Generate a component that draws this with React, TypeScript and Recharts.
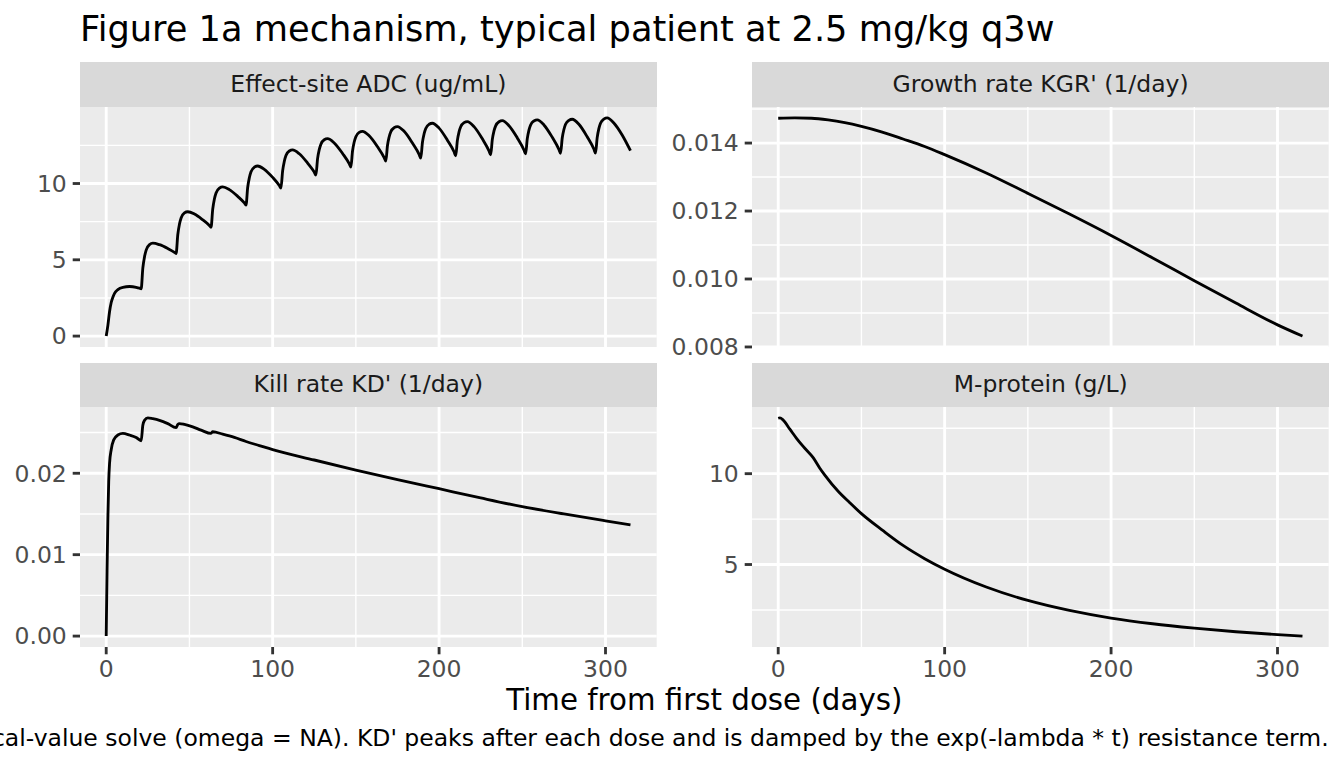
import React from "react";
import { LineChart, Line, XAxis, YAxis, CartesianGrid } from "recharts";

const FONT = "'DejaVu Sans', sans-serif";

// Effect-site ADC (ug/mL), one row per dosing cycle (q3w)
const adcDays = [
  0, 1, 2, 3, 4, 5, 7, 10, 14, 18, 20,
  21, 22, 23, 24, 26, 28, 32, 37, 41,
  42, 43, 44, 45, 47, 49, 53, 58, 62,
  63, 64, 65, 66, 68, 70, 74, 79, 83,
  84, 85, 86, 87, 89, 91, 95, 100, 104,
  105, 106, 107, 108, 110, 112, 116, 121, 125,
  126, 127, 128, 129, 131, 133, 137, 142, 146,
  147, 148, 149, 150, 152, 154, 158, 163, 167,
  168, 169, 170, 171, 173, 175, 179, 184, 188,
  189, 190, 191, 192, 194, 196, 200, 205, 209,
  210, 211, 212, 213, 215, 217, 221, 226, 230,
  231, 232, 233, 234, 236, 238, 242, 247, 251,
  252, 253, 254, 255, 257, 259, 263, 268, 272,
  273, 274, 275, 276, 278, 280, 284, 289, 293,
  294, 295, 296, 297, 299, 301, 305, 310, 315,
];
const adcValues = [
  0, 0.7, 1.6, 2.2, 2.55, 2.8, 3.05, 3.2, 3.25, 3.2, 3.14,
  3.1, 4.45, 5.19, 5.64, 6.0, 6.09, 5.99, 5.74, 5.49,
  5.41, 6.64, 7.33, 7.74, 8.07, 8.15, 8.0, 7.62, 7.25,
  7.13, 8.32, 8.99, 9.38, 9.7, 9.78, 9.6, 9.16, 8.73,
  8.59, 9.74, 10.38, 10.77, 11.07, 11.15, 10.93, 10.4, 9.87,
  9.7, 10.83, 11.45, 11.83, 12.13, 12.2, 11.95, 11.34, 10.75,
  10.55, 11.63, 12.22, 12.58, 12.87, 12.94, 12.66, 11.97, 11.3,
  11.08, 12.13, 12.72, 13.07, 13.35, 13.42, 13.13, 12.41, 11.7,
  11.47, 12.49, 13.05, 13.39, 13.66, 13.73, 13.42, 12.65, 11.91,
  11.66, 12.69, 13.26, 13.61, 13.88, 13.95, 13.63, 12.84, 12.08,
  11.82, 12.83, 13.39, 13.72, 13.99, 14.06, 13.73, 12.93, 12.14,
  11.88, 12.89, 13.45, 13.78, 14.05, 14.12, 13.79, 12.99, 12.2,
  11.94, 12.94, 13.5, 13.84, 14.1, 14.17, 13.84, 13.03, 12.24,
  11.98, 12.98, 13.54, 13.88, 14.14, 14.21, 13.88, 13.06, 12.26,
  11.99, 13.01, 13.6, 13.95, 14.22, 14.3, 13.97, 13.18, 12.15,
];

// Growth rate KGR' (1/day)
const kgrDays = [0, 10, 20, 30, 40, 50, 62, 75, 88, 100, 125, 150, 175, 200, 225, 250, 275, 300, 315];
const kgrValues = [
  0.01473, 0.01474, 0.01473, 0.01468, 0.0146, 0.01449, 0.01433, 0.01412, 0.0139, 0.01366,
  0.01312, 0.01252, 0.01191, 0.01128, 0.01062, 0.00995, 0.00929, 0.00865, 0.00832,
];

// Kill rate KD' (1/day)
const kdDays = [
  0, 0.5, 1, 1.5, 2, 3, 4.5, 7, 10, 14, 18, 21, 22, 23, 25, 28, 32, 37, 42, 43,
  44, 47, 52, 57, 63, 64, 70, 77, 84, 92, 100, 125, 150, 175, 200, 225, 250, 275, 300, 315,
];
const kdValues = [
  0, 0.008, 0.0145, 0.019, 0.0212, 0.0229, 0.0241, 0.0247, 0.0249, 0.0247, 0.0244, 0.024,
  0.0259, 0.0265, 0.0268, 0.0267, 0.0265, 0.0261, 0.0256, 0.026, 0.0261, 0.026, 0.0257,
  0.0253, 0.0249, 0.0251, 0.0248, 0.0244, 0.0239, 0.0234, 0.0229, 0.02163, 0.0204,
  0.01923, 0.0181, 0.01697, 0.0159, 0.015, 0.01416, 0.01367,
];

// M-protein (g/L)
const mDays = [0, 1, 3, 7, 11, 15, 21, 25, 28, 36, 43, 50, 63, 75, 88, 100, 125, 150, 175, 200, 225, 250, 275, 300, 315];
const mValues = [
  13.05, 13.07, 12.95, 12.45, 11.95, 11.5, 10.88, 10.3, 9.92, 9.03, 8.4, 7.8, 6.86,
  6.05, 5.32, 4.74, 3.76, 3.02, 2.47, 2.05, 1.74, 1.5, 1.3, 1.14, 1.06,
];

const dayTicks = [0, 100, 200, 300];
const dayMinor = [50, 150, 250];
const adcTicks = [0, 5, 10];
const adcMinor = [2.5, 7.5, 12.5];
const kgrTicks = [0.008, 0.01, 0.012, 0.014];
const kgrMinor = [0.009, 0.011, 0.013, 0.015];
const kdTicks = [0, 0.01, 0.02];
const kdMinor = [0.005, 0.015, 0.025];
const mTicks = [5, 10];
const mMinor = [2.5, 7.5, 12.5];

// ggplot default: 5% expansion on each side
function expand(v: number[]): [number, number] {
  const lo = Math.min(...v);
  const hi = Math.max(...v);
  const pad = (hi - lo) * 0.05;
  return [lo - pad, hi + pad];
}

const dayDomain = expand([...adcDays, ...kgrDays, ...kdDays, ...mDays]);

const PLOT_W = 576.7;
const PLOT_H = 240;
const STRIP_H = 44.4;
const AXIS_W = 100;
const XAXIS_H = 40;
const PAD_B = 16; // room for the lowest y label on the top row
const tickLine = { stroke: "#333333", strokeWidth: 2.84 };
const tickText = { fill: "#4D4D4D", fontSize: 23.5, fontFamily: FONT };

type PanelProps = {
  label: string;
  days: number[];
  values: number[];
  yTicks: number[];
  yMinor: number[];
  fmt: (v: number) => string;
  left: number;
  top: number;
  showX: boolean;
};

function Panel({ label, days, values, yTicks, yMinor, fmt, left, top, showX }: PanelProps) {
  const data = days.map((t, i) => ({ t, v: values[i] }));
  return (
    <div style={{ position: "absolute", left: left - AXIS_W, top: top - STRIP_H }}>
      <div
        style={{
          marginLeft: AXIS_W,
          width: PLOT_W,
          height: STRIP_H,
          background: "#D9D9D9",
          color: "#1A1A1A",
          fontSize: 23.5,
          lineHeight: 1,
          display: "flex",
          alignItems: "center",
          justifyContent: "center",
        }}
      >
        {label}
      </div>
      <LineChart
        width={AXIS_W + PLOT_W}
        height={PLOT_H + (showX ? XAXIS_H : PAD_B)}
        data={data}
        margin={{ top: 0, right: 0, bottom: showX ? 0 : PAD_B, left: 0 }}
      >
        <CartesianGrid
          fill="#EBEBEB"
          stroke="#FFFFFF"
          strokeWidth={1.42}
          verticalValues={dayMinor}
          horizontalValues={yMinor}
        />
        <CartesianGrid
          stroke="#FFFFFF"
          strokeWidth={2.84}
          verticalValues={dayTicks}
          horizontalValues={yTicks}
        />
        <XAxis
          dataKey="t"
          type="number"
          domain={dayDomain}
          ticks={dayTicks}
          interval={0}
          hide={!showX}
          height={XAXIS_H}
          axisLine={false}
          tickLine={tickLine}
          tickSize={7.3}
          tickMargin={5.9}
          tick={tickText}
        />
        <YAxis
          type="number"
          domain={expand(values)}
          ticks={yTicks}
          interval={0}
          width={AXIS_W}
          axisLine={false}
          tickLine={tickLine}
          tickSize={7.3}
          tickMargin={5.9}
          tick={tickText}
          tickFormatter={fmt}
        />
        <Line
          dataKey="v"
          type="monotone"
          stroke="#000000"
          strokeWidth={2.84}
          strokeLinejoin="round"
          dot={false}
          isAnimationActive={false}
        />
      </LineChart>
    </div>
  );
}

export default function App() {
  return (
    <div
      style={{
        position: "absolute",
        left: 0,
        top: 0,
        width: 1344,
        height: 768,
        overflow: "hidden",
        background: "#FFFFFF",
        fontFamily: FONT,
      }}
    >
      <div style={{ position: "absolute", left: 80, top: 10.7, fontSize: 35.2, lineHeight: 1, color: "#000", whiteSpace: "nowrap" }}>
        Figure 1a mechanism, typical patient at 2.5 mg/kg q3w
      </div>
      <Panel label="Effect-site ADC (ug/mL)" days={adcDays} values={adcValues} yTicks={adcTicks} yMinor={adcMinor} fmt={(v) => String(v)} left={80} top={106.7} showX={false} />
      <Panel label="Growth rate KGR' (1/day)" days={kgrDays} values={kgrValues} yTicks={kgrTicks} yMinor={kgrMinor} fmt={(v) => v.toFixed(3)} left={752.3} top={106.7} showX={false} />
      <Panel label="Kill rate KD' (1/day)" days={kdDays} values={kdValues} yTicks={kdTicks} yMinor={kdMinor} fmt={(v) => v.toFixed(2)} left={80} top={407.3} showX={true} />
      <Panel label="M-protein (g/L)" days={mDays} values={mValues} yTicks={mTicks} yMinor={mMinor} fmt={(v) => String(v)} left={752.3} top={407.3} showX={true} />
      <div style={{ position: "absolute", left: 80, width: 1248.7, top: 685.5, fontSize: 29.3, lineHeight: 1, textAlign: "center", color: "#000" }}>
        Time from first dose (days)
      </div>
      <div style={{ position: "absolute", right: 15.3, top: 727.1, fontSize: 23.5, lineHeight: 1, color: "#000", whiteSpace: "nowrap" }}>
        Typical-value solve (omega = NA). KD' peaks after each dose and is damped by the exp(-lambda * t) resistance term.
      </div>
    </div>
  );
}
